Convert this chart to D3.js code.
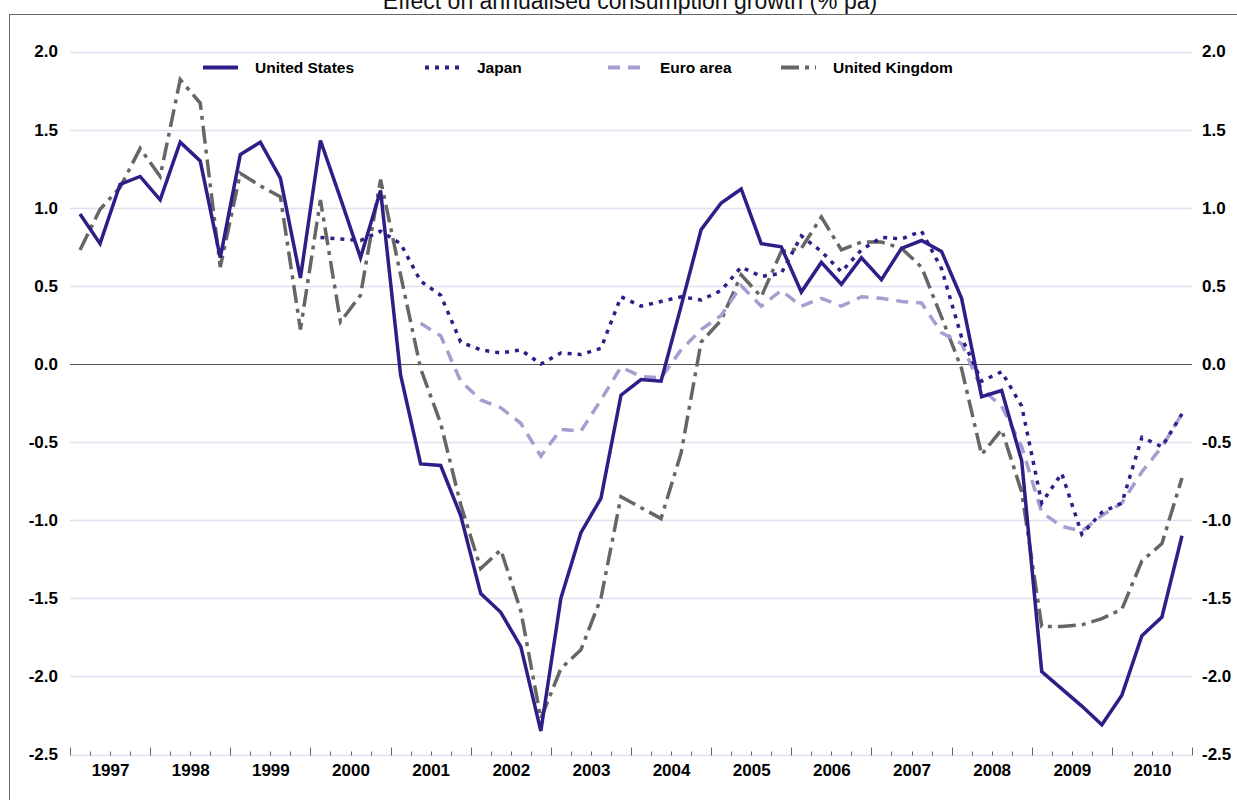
<!DOCTYPE html>
<html>
<head>
<meta charset="utf-8">
<script src="https://cdn.jsdelivr.net/npm/d3@7"></script>
<style>
  body { margin: 0; background: #fff; }
  svg { display: block; font-family: "Liberation Sans", Arial, sans-serif; }
</style>
</head>
<body>
<svg id="chart" width="1237" height="800"></svg>
<script>
// quarterly data, 1997Q1 .. 2010Q4
var years = [1997, 1998, 1999, 2000, 2001, 2002, 2003, 2004, 2005, 2006, 2007, 2008, 2009, 2010];
var yTicks = [2.0, 1.5, 1.0, 0.5, 0.0, -0.5, -1.0, -1.5, -2.0, -2.5];

var us = [0.96, 0.77, 1.15, 1.20, 1.05, 1.42, 1.30, 0.68,
          1.34, 1.42, 1.19, 0.55, 1.43, 1.06, 0.68, 1.11,
          -0.07, -0.64, -0.65, -0.97, -1.47, -1.59, -1.81, -2.35,
          -1.50, -1.08, -0.86, -0.20, -0.10, -0.11, 0.37, 0.86,
          1.03, 1.12, 0.77, 0.75, 0.46, 0.65, 0.51, 0.68,
          0.54, 0.74, 0.79, 0.72, 0.42, -0.21, -0.17, -0.62,
          -1.97, -2.08, -2.19, -2.31, -2.12, -1.74, -1.62, -1.10];

// Japan starts 2000Q1
var japan = [null, null, null, null, null, null, null, null,
          null, null, null, null, 0.81, 0.80, 0.79, 0.85,
          0.77, 0.53, 0.44, 0.14, 0.09, 0.07, 0.09, 0.00,
          0.07, 0.06, 0.10, 0.43, 0.37, 0.40, 0.43, 0.41,
          0.47, 0.62, 0.56, 0.58, 0.82, 0.72, 0.59, 0.73,
          0.81, 0.80, 0.85, 0.61, 0.17, -0.11, -0.05, -0.27,
          -0.89, -0.70, -1.09, -0.95, -0.89, -0.47, -0.53, -0.32];

// Euro area starts 2001Q2
var euro = [null, null, null, null, null, null, null, null,
          null, null, null, null, null, null, null, null,
          null, 0.26, 0.18, -0.11, -0.23, -0.28, -0.38, -0.59,
          -0.42, -0.43, -0.23, -0.02, -0.08, -0.09, 0.09, 0.22,
          0.31, 0.50, 0.37, 0.47, 0.37, 0.42, 0.37, 0.43,
          0.42, 0.40, 0.39, 0.20, 0.13, -0.16, -0.27, -0.53,
          -0.95, -1.04, -1.07, -0.97, -0.89, -0.69, -0.53, -0.32];

var uk = [0.73, 0.99, 1.13, 1.38, 1.20, 1.82, 1.67, 0.62,
          1.22, 1.14, 1.07, 0.22, 1.05, 0.27, 0.44, 1.18,
          0.57, -0.03, -0.38, -0.90, -1.31, -1.19, -1.58, -2.27,
          -1.95, -1.83, -1.50, -0.85, -0.92, -0.99, -0.57, 0.14,
          0.28, 0.57, 0.43, 0.72, 0.74, 0.94, 0.73, 0.78,
          0.78, 0.74, 0.62, 0.30, -0.03, -0.58, -0.42, -0.82,
          -1.68, -1.68, -1.67, -1.63, -1.57, -1.26, -1.15, -0.73];

var seriesNames = ["United States", "Japan", "Euro area", "United Kingdom"];
var seriesValues = [us, japan, euro, uk];

var styles = [
  {color: "#2c1f87", width: 3.5, dash: null},
  {color: "#2c1f87", width: 3.5, dash: "4,6"},
  {color: "#a79dd0", width: 3.5, dash: "12,8"},
  {color: "#666666", width: 3.5, dash: "18,6,4,6"}
];

var svg = d3.select("#chart");
var nq = years.length * 4;

var x = d3.scaleLinear().domain([0, nq]).range([70, 1192]);
var y = d3.scaleLinear().domain([-2.5, 2.0]).range([754.5, 51.5]);

// frame
svg.append("rect")
  .attr("x", 9.5).attr("y", 14.5)
  .attr("width", 1300).attr("height", 900)
  .attr("fill", "none").attr("stroke", "#666").attr("stroke-width", 1);

// title (its top runs off the page, as in the source)
svg.append("text")
  .attr("x", 630).attr("y", 9)
  .attr("text-anchor", "middle")
  .attr("font-size", 23)
  .attr("fill", "#111")
  .text("Effect on annualised consumption growth (% pa)");

// gridlines
svg.append("g").selectAll("line")
  .data(yTicks)
  .join("line")
  .attr("x1", x(0)).attr("x2", x(nq))
  .attr("y1", d => Math.round(y(d)) + 0.5)
  .attr("y2", d => Math.round(y(d)) + 0.5)
  .attr("stroke", d => d === 0 ? "#555" : "#e2e0f0")
  .attr("stroke-width", d => d === 0 ? 1 : 1.5);

// y axes, left and right
var fmt = d => d.toFixed(1);
var left = svg.append("g")
  .attr("transform", "translate(" + (x(0) - 9) + ",0)")
  .call(d3.axisLeft(y).tickValues(yTicks).tickSize(0).tickFormat(fmt));
var right = svg.append("g")
  .attr("transform", "translate(" + (x(nq) + 7) + ",0)")
  .call(d3.axisRight(y).tickValues(yTicks).tickSize(0).tickFormat(fmt));
[left, right].forEach(function (g) {
  g.select(".domain").remove();
  g.selectAll("text")
    .attr("font-family", "Liberation Sans, Arial, sans-serif")
    .attr("font-size", 17).attr("font-weight", "bold").attr("fill", "#000");
});

// x axis: quarter ticks pointing up, year labels centred
var axisY = Math.round(y(-2.5)) + 0.5;
svg.append("g").selectAll("line")
  .data(d3.range(0, nq + 1))
  .join("line")
  .attr("x1", d => Math.round(x(d)) + 0.5)
  .attr("x2", d => Math.round(x(d)) + 0.5)
  .attr("y1", axisY)
  .attr("y2", d => d % 4 === 0 ? axisY - 8 : axisY - 4)
  .attr("stroke", "#666").attr("stroke-width", 1);

var bottom = svg.append("g")
  .attr("transform", "translate(0," + (axisY + 5) + ")")
  .call(d3.axisBottom(x)
    .tickValues(years.map((yr, i) => i * 4 + 2))
    .tickSize(0)
    .tickFormat((d, i) => years[i]));
bottom.select(".domain").remove();
bottom.selectAll("text")
  .attr("font-family", "Liberation Sans, Arial, sans-serif")
  .attr("font-size", 17).attr("font-weight", "bold").attr("fill", "#000");

// lines
var line = d3.line()
  .defined(d => d != null)
  .x((d, i) => x(i + 0.5))
  .y(d => y(d));

// draw back to front: UK, Euro, Japan, US
[3, 2, 1, 0].forEach(function (k) {
  svg.append("path")
    .attr("d", line(seriesValues[k]))
    .attr("fill", "none")
    .attr("stroke", styles[k].color)
    .attr("stroke-width", styles[k].width)
    .attr("stroke-dasharray", styles[k].dash)
    .attr("stroke-linejoin", "miter");
});

// legend
var legendX = [203, 425, 608, 781];
var legend = svg.append("g");
seriesNames.forEach(function (name, k) {
  legend.append("line")
    .attr("x1", legendX[k]).attr("x2", legendX[k] + 35)
    .attr("y1", 67.5).attr("y2", 67.5)
    .attr("stroke", styles[k].color)
    .attr("stroke-width", 4)
    .attr("stroke-dasharray", styles[k].dash);
  legend.append("text")
    .attr("x", legendX[k] + 52).attr("y", 73)
    .attr("font-size", 15.5).attr("font-weight", "bold")
    .attr("fill", "#000")
    .text(name);
});
</script>
</body>
</html>
